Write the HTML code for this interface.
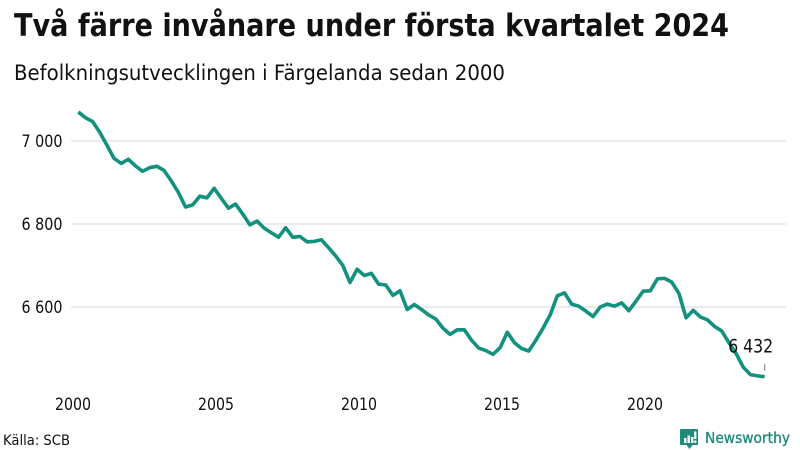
<!DOCTYPE html>
<html lang="sv">
<head>
<meta charset="utf-8">
<title>Två färre invånare under första kvartalet 2024</title>
<style>
html,body{margin:0;padding:0;background:#fff;width:800px;height:450px;overflow:hidden}
svg{display:block}
text{font-family:"DejaVu Sans","Liberation Sans",sans-serif;fill:#111}
</style>
</head>
<body>
<svg id="chart" xmlns="http://www.w3.org/2000/svg" width="800" height="450" viewBox="0 0 800 450">
  <rect width="800" height="450" fill="#ffffff"/>
  <text x="14" y="36" font-size="31" font-weight="700" textLength="715" lengthAdjust="spacingAndGlyphs">Två färre invånare under första kvartalet 2024</text>
  <text x="14" y="80" font-size="21" textLength="491" lengthAdjust="spacingAndGlyphs">Befolkningsutvecklingen i Färgelanda sedan 2000</text>
  <g id="grid"></g>
  <g id="yticks"></g>
  <g id="xticks"></g>
  <path id="line" fill="none" stroke="#13917f" stroke-width="3.6" stroke-linejoin="round" stroke-linecap="butt"></path>
  <line id="endTick" stroke="#777" stroke-width="1"></line>
  <text id="endLabel" font-size="18.5" text-anchor="middle" textLength="45" lengthAdjust="spacingAndGlyphs"></text>
  <text x="3" y="445" font-size="14.5" textLength="67" lengthAdjust="spacingAndGlyphs">Källa: SCB</text>
  <g>
    <path d="M682 429h15q1 0 1 1v15h-5.500l-3 4l-3-4h-5.500q-1 0-1-1v-14q0-1 1-1z" fill="#1f8a7b"/>
    <rect x="684" y="438" width="2.500" height="5" fill="#fff"/>
    <rect x="687.500" y="435.500" width="2.500" height="7.500" fill="#fff"/>
    <rect x="691" y="437" width="2.500" height="6" fill="#fff"/>
    <rect x="694.200" y="431.500" width="2.200" height="7.500" fill="#fff"/>
    <rect x="694.200" y="440.500" width="2.200" height="2.500" fill="#fff"/>
    <text x="705" y="443" font-size="15.500" textLength="85" lengthAdjust="spacingAndGlyphs" style="fill:#1f8a7b;stroke:#1f8a7b;stroke-width:0.35">Newsworthy</text>
  </g>
</svg>
<script>
const categories = [
  "2000Q1","2000Q2","2000Q3","2000Q4","2001Q1","2001Q2","2001Q3","2001Q4",
  "2002Q1","2002Q2","2002Q3","2002Q4","2003Q1","2003Q2","2003Q3","2003Q4",
  "2004Q1","2004Q2","2004Q3","2004Q4","2005Q1","2005Q2","2005Q3","2005Q4",
  "2006Q1","2006Q2","2006Q3","2006Q4","2007Q1","2007Q2","2007Q3","2007Q4",
  "2008Q1","2008Q2","2008Q3","2008Q4","2009Q1","2009Q2","2009Q3","2009Q4",
  "2010Q1","2010Q2","2010Q3","2010Q4","2011Q1","2011Q2","2011Q3","2011Q4",
  "2012Q1","2012Q2","2012Q3","2012Q4","2013Q1","2013Q2","2013Q3","2013Q4",
  "2014Q1","2014Q2","2014Q3","2014Q4","2015Q1","2015Q2","2015Q3","2015Q4",
  "2016Q1","2016Q2","2016Q3","2016Q4","2017Q1","2017Q2","2017Q3","2017Q4",
  "2018Q1","2018Q2","2018Q3","2018Q4","2019Q1","2019Q2","2019Q3","2019Q4",
  "2020Q1","2020Q2","2020Q3","2020Q4","2021Q1","2021Q2","2021Q3","2021Q4",
  "2022Q1","2022Q2","2022Q3","2022Q4","2023Q1","2023Q2","2023Q3","2023Q4",
  "2024Q1"
];
const population = [
  7070,7056,7047,7021,6990,6958,6946,6956,
  6940,6927,6936,6939,6929,6904,6876,6841,
  6846,6867,6863,6886,6862,6838,6848,6824,
  6798,6807,6790,6779,6768,6791,6768,6770,
  6757,6758,6762,6743,6723,6700,6659,6691,
  6676,6681,6655,6653,6628,6639,6594,6606,
  6594,6581,6571,6549,6534,6545,6545,6520,
  6501,6495,6486,6502,6539,6514,6500,6494,
  6520,6549,6581,6627,6634,6607,6602,6590,
  6577,6600,6607,6602,6610,6591,6614,6638,
  6639,6668,6669,6660,6633,6574,6592,6576,
  6569,6553,6542,6514,6488,6455,6437,6434,
  6432
];
const yTickValues = [7000, 6800, 6600];
const yTickLabels = ["7 000", "6 800", "6 600"];
const xTickValues = [2000, 2005, 2010, 2015, 2020];
const xTickLabels = ["2000", "2005", "2010", "2015", "2020"];
const endLabelText = "6 432";

const NS = 'http://www.w3.org/2000/svg';
function yScale(v) { return 141 + (7000 - v) * 0.415; }
function xScale(t) { return 73 + (t - 2000) * 28.6; }
function categoryTime(c) {
  const year = parseInt(c.slice(0, 4), 10);
  const quarter = parseInt(c.slice(5), 10);
  return year + (quarter - 1) / 4 + 0.185;
}
function make(tag, attrs, parent, content) {
  const el = document.createElementNS(NS, tag);
  Object.keys(attrs).forEach(function (k) { el.setAttribute(k, attrs[k]); });
  if (content !== undefined) el.textContent = content;
  parent.appendChild(el);
  return el;
}

const gridGroup = document.getElementById('grid');
const yGroup = document.getElementById('yticks');
yTickValues.forEach(function (v, i) {
  const y = yScale(v);
  const gl = make('line', { x1: 71, x2: 786, y1: y, y2: y, stroke: '#e3e3ea', 'stroke-width': 1.5 }, gridGroup);
  
  
  const tl = make('text', { x: 62.5, y: y + 6, 'font-size': 16.5, 'text-anchor': 'end', textLength: 41, lengthAdjust: 'spacingAndGlyphs' }, yGroup, yTickLabels[i]);
  
  
});

const xGroup = document.getElementById('xticks');
xTickValues.forEach(function (t, i) {
  const tl = make('text', { x: xScale(t), y: 410, 'font-size': 16.5, 'text-anchor': 'middle', textLength: 36, lengthAdjust: 'spacingAndGlyphs' }, xGroup, xTickLabels[i]);
  
  
});

const d = population.map(function (v, i) {
  return (i ? 'L' : 'M') + xScale(categoryTime(categories[i])).toFixed(2) + ' ' + yScale(v).toFixed(2);
}).join('');
document.getElementById('line').setAttribute('d', d);

const lastIndex = population.length - 1;
const lastX = xScale(categoryTime(categories[lastIndex]));
const lastY = yScale(population[lastIndex]);
const tick = document.getElementById('endTick');
tick.setAttribute('x1', lastX);
tick.setAttribute('x2', lastX);
tick.setAttribute('y1', lastY - 13);
tick.setAttribute('y2', lastY - 6);
const endLabel = document.getElementById('endLabel');
endLabel.setAttribute('x', lastX - 14);
endLabel.setAttribute('y', lastY - 24);
endLabel.textContent = endLabelText;
</script>
</body>
</html>
